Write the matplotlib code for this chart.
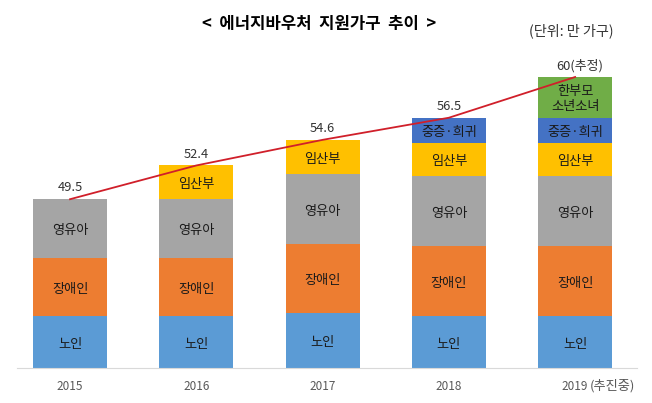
import numpy as np
import matplotlib
matplotlib.use('Agg')
import matplotlib.pyplot as plt

plt.rcParams['font.family'] = ['Noto Sans CJK KR', 'DejaVu Sans']

# 세로축은 35부터 시작하는 것으로 읽음
years = ['2015', '2016', '2017', '2018', '2019']
totals = [49.5, 52.4, 54.6, 56.5, 60]
total_labels = ['49.5', '52.4', '54.6', '56.5', '60(추정)']

noin = [4.47, 4.47, 4.73, 4.47, 4.47]
jangae = [4.98, 4.98, 5.93, 6.01, 6.01]
youa = [5.05, 5.05, 6.00, 6.01, 6.01]
imsan = [0, 2.90, 2.94, 2.85, 2.85]
jungjeung = [0, 0, 0, 2.16, 2.16]
hanbumo = [0, 0, 0, 0, 3.50]

series = [
    ('노인', noin, '#5B9BD5'),
    ('장애인', jangae, '#ED7D31'),
    ('영유아', youa, '#A5A5A5'),
    ('임산부', imsan, '#FFC000'),
    ('중증·희귀', jungjeung, '#4472C4'),
    ('한부모\n소년소녀', hanbumo, '#70AD47'),
]

W, H = 652, 403
base = 35
px_per_unit = 291 / 25

fig = plt.figure(figsize=(W / 100, H / 100), dpi=100)
ax = fig.add_axes([17 / W, (H - 368) / H, 620 / W, 328 / H])
ax.set_xlim(-0.42, 4.49)
ax.set_ylim(base, base + 328 / px_per_unit)

x = np.arange(len(years))
bottom = np.full(len(years), float(base))
for name, vals, color in series:
    vals = np.array(vals)
    ax.bar(x, vals, width=0.587, bottom=bottom, color=color, zorder=2)
    for i in x:
        if vals[i] > 0:
            ax.annotate(name, (i, bottom[i] + vals[i] / 2), xytext=(0, -1.5),
                        textcoords='offset points', ha='center', va='center',
                        fontsize=9.5, color='#1a1a1a', linespacing=1.2, zorder=4)
    bottom = bottom + vals

ax.plot(x, totals, color='#D01F2A', lw=1.3, zorder=3)
for i in x:
    # 마지막 라벨만 오른쪽으로 약간 치우쳐 있음
    dx = 3.6 if i == len(years) - 1 else 0
    ax.annotate(total_labels[i], (i, totals[i]), xytext=(dx, 3.5), textcoords='offset points',
                ha='center', va='bottom', fontsize=9.3, color='#333333')

for s in ['top', 'left', 'right']:
    ax.spines[s].set_visible(False)
ax.spines['bottom'].set_color('#D9D9D9')
ax.set_yticks([])
ax.set_xticks(x)
ax.set_xticklabels(years)
ax.tick_params(axis='x', length=0, pad=9, labelsize=8.5, labelcolor='#595959')

fig.text(319 / W, 1 - 24 / H, '<  에너지바우처  지원가구  추이  >', ha='center', va='center',
         fontsize=12, fontweight='bold', color='black')
fig.text(571 / W, 1 - 31 / H, '(단위: 만 가구)', ha='center', va='center',
         fontsize=10.2, color='#333333')
fig.text(612.5 / W, 1 - 386 / H, '(추진중)', ha='center', va='center',
         fontsize=9.5, color='#595959')

fig.savefig('out.png', dpi=100)
